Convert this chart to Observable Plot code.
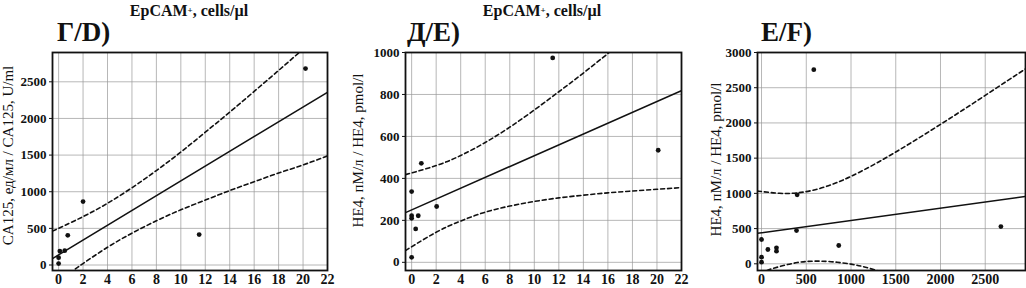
<!DOCTYPE html>
<html><head><meta charset="utf-8">
<script src="https://cdn.jsdelivr.net/npm/d3@7"></script>
<script src="https://cdn.jsdelivr.net/npm/@observablehq/plot@0.6"></script>
<style>
html,body{margin:0;padding:0;background:#fff;}
#wrap{position:relative;width:1026px;height:288px;overflow:hidden;font-family:"Liberation Serif","Times New Roman",serif;color:#111;}
.p{position:absolute;top:0;}
.p svg{overflow:visible;}
.p svg text{font-family:"Liberation Serif","Times New Roman",serif;}
.title{position:absolute;top:2px;font-weight:bold;font-size:16px;line-height:18px;transform:translateX(-50%);white-space:nowrap;}
.title sup{font-size:9px;vertical-align:top;position:relative;top:-1px;}
.tag{position:absolute;top:17px;font-weight:bold;font-size:27px;line-height:30px;white-space:nowrap;}
</style>
</head><body>
<div id="wrap">
  <div class="title" style="left:189px">EpCAM<sup>+</sup>, cells/µl</div>
  <div class="title" style="left:542px">EpCAM<sup>+</sup>, cells/µl</div>
  <div class="tag" style="left:57px">Г/D)</div>
  <div class="tag" style="left:407px">Д/E)</div>
  <div class="tag" style="left:761px">E/F)</div>
  <div class="p" id="p1" style="left:0px"></div>
  <div class="p" id="p2" style="left:340px"></div>
  <div class="p" id="p3" style="left:681px"></div>
</div>
<script>
// ---- tick labels ----
const cellTicks = [0, 2, 4, 6, 8, 10, 12, 14, 16, 18, 20, 22];
const ca125Ticks = [0, 500, 1000, 1500, 2000, 2500];
const he4TicksA = [0, 200, 400, 600, 800, 1000];
const he4XTicks = [0, 500, 1000, 1500, 2000, 2500];
const he4TicksB = [0, 500, 1000, 1500, 2000, 2500, 3000];

// ---- panel Г/D: EpCAM+ vs CA125 ----
const dX = [0, 0, 0.1, 0.5, 0.75, 2, 11.5, 20.2];
const dY = [20, 100, 190, 195, 405, 865, 415, 2680];
const dFitX = [-0.5, 22];
const dFitY = [88, 2358];
const dUpX = [-0.5, 2, 4, 6, 8, 10, 12, 14, 16, 18, 20];
const dUpY = [462, 660, 842, 1054, 1289, 1541, 1812, 2086, 2369, 2655, 2946];
const dLoX = [0, 1, 2, 4, 6, 8, 10, 12, 14, 16, 18, 20, 22];
const dLoY = [-225, -100, 20, 242, 434, 603, 753, 886, 1016, 1137, 1255, 1366, 1488];

// ---- panel Д/E: EpCAM+ vs HE4 ----
const eX = [0, 0, 0, 0, 0.33, 0.54, 0.79, 2.04, 11.5, 20.1];
const eY = [24, 337, 222, 210, 159, 222, 472, 266, 974, 534];
const eFitX = [-0.5, 22];
const eFitY = [237, 818];
const eUpX = [-0.5, 2, 4, 6, 8, 10, 12, 14, 16, 17];
const eUpY = [418, 461, 509, 571, 644, 726, 813, 902, 995, 1042];
const eLoX = [-0.5, 2, 4, 6, 8, 10, 12, 14, 16, 18, 20, 22];
const eLoY = [56, 143, 197, 239, 268, 290, 307, 320, 331, 340, 348, 356];

// ---- panel E/F: CA125 vs HE4 ----
const fX = [0, 0, 0, 71, 167, 167, 391, 398, 584, 863, 2675];
const fY = [345, 94, 23, 203, 227, 179, 472, 979, 2756, 260, 529];
const fFitX = [-45, 2950];
const fFitY = [433, 955];
const fUpX = [-45, 0, 200, 400, 600, 800, 1000, 1250, 1500, 1750, 2000, 2250, 2500, 2750, 2950];
const fUpY = [1037, 1027, 1001, 1007, 1052, 1133, 1241, 1405, 1587, 1780, 1980, 2183, 2391, 2601, 2767];
const fLoX = [0, 60, 200, 400, 600, 800, 1000, 1150, 1300, 1400];
const fLoY = [-150, -95, -40, 18, 38, 28, -5, -45, -100, -140];

const ink = "#111";
const plain = d3.format("d");

function panel(o) {
  return Plot.plot({
    width: o.width, height: 288,
    marginLeft: o.ml, marginRight: o.mr, marginTop: 52, marginBottom: 18,
    style: {fontFamily: "'Liberation Serif', 'Times New Roman', serif", fontSize: "13px", fontWeight: "bold", color: ink, background: "transparent"},
    x: {domain: o.xd},
    y: {domain: o.yd},
    marks: [
      Plot.gridX(o.xt, {stroke: "#999", strokeOpacity: 0.7}),
      Plot.gridY(o.yt, {stroke: "#999", strokeOpacity: 0.7}),
      Plot.axisX(o.xt, {tickSize: 0, tickPadding: 4, fontSize: 14, tickFormat: plain, label: null}),
      Plot.axisY(o.yt, {tickSize: 3, tickPadding: 3, fontSize: 13, tickFormat: plain, label: null}),
      Plot.line(o.fitX, {x: o.fitX, y: o.fitY, stroke: ink, strokeWidth: 1.5, clip: true}),
      Plot.line(o.upX, {x: o.upX, y: o.upY, stroke: ink, strokeWidth: 1.6, strokeDasharray: "4,3", curve: "natural", clip: true}),
      Plot.line(o.loX, {x: o.loX, y: o.loY, stroke: ink, strokeWidth: 1.6, strokeDasharray: "4,3", curve: "natural", clip: true}),
      Plot.dot(o.px, {x: o.px, y: o.py, r: 2.4, fill: ink, stroke: null}),
      Plot.frame({stroke: ink, strokeWidth: 1.8}),
      Plot.text([o.ylabel], {text: d => d, frameAnchor: "left", textAnchor: "middle", rotate: -90, dx: o.ldx, dy: o.ldy, fontSize: 15, fontWeight: "normal"})
    ]
  });
}

document.getElementById("p1").append(panel({
  width: 340, ml: 52, mr: 13, xd: [-0.5, 22], yd: [-75, 2900], xt: cellTicks, yt: ca125Ticks,
  px: dX, py: dY, fitX: dFitX, fitY: dFitY, upX: dUpX, upY: dUpY, loX: dLoX, loY: dLoY,
  ylabel: "CA125, ед/мл / CA125, U/ml", ldx: -44, ldy: -6
}));
document.getElementById("p2").append(panel({
  width: 341, ml: 65, mr: 0, xd: [-0.5, 22], yd: [-39, 1000], xt: cellTicks, yt: he4TicksA,
  px: eX, py: eY, fitX: eFitX, fitY: eFitY, upX: eUpX, upY: eUpY, loX: eLoX, loY: eLoY,
  ylabel: "HE4, пМ/л / HE4, pmol/l", ldx: -47, ldy: -11
}));
document.getElementById("p3").append(panel({
  width: 345, ml: 76, mr: 1, xd: [-45, 2950], yd: [-95, 3000], xt: he4XTicks, yt: he4TicksB,
  px: fX, py: fY, fitX: fFitX, fitY: fFitY, upX: fUpX, upY: fUpY, loX: fLoX, loY: fLoY,
  ylabel: "HE4, пМ/л / HE4, pmol/l", ldx: -41, ldy: -2
}));
</script>
</body></html>
